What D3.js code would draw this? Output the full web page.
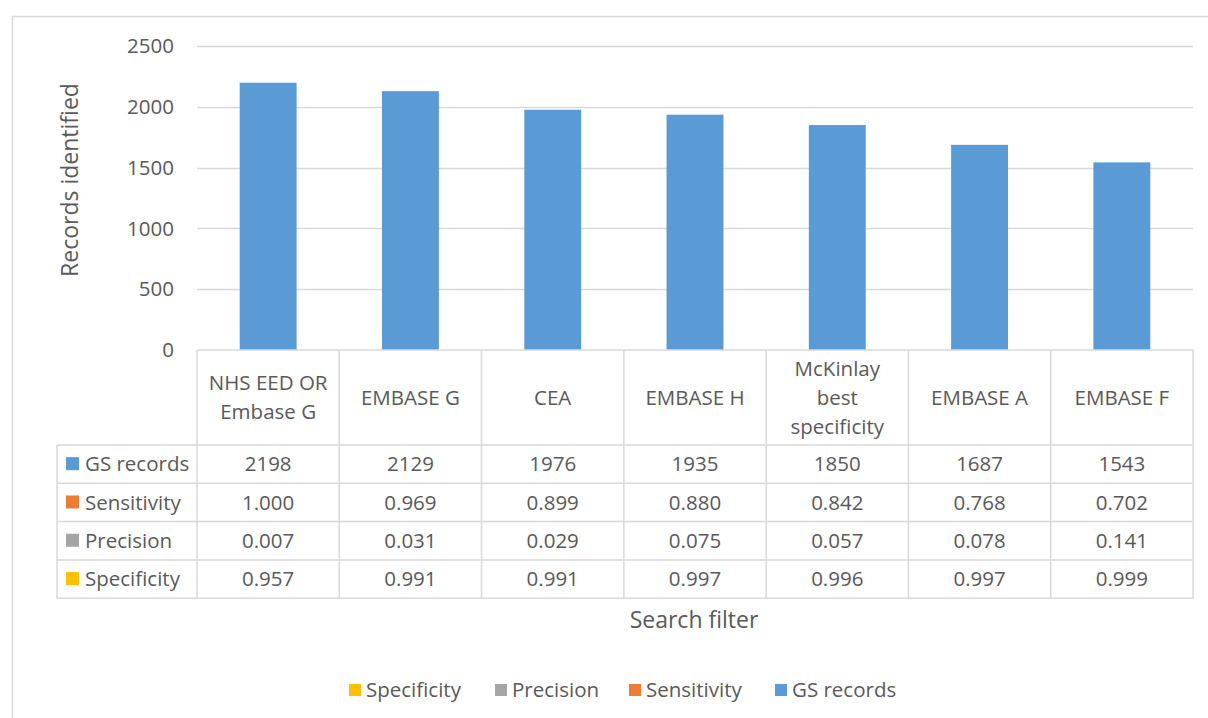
<!DOCTYPE html>
<html>
<head>
<meta charset="utf-8">
<script src="https://cdn.jsdelivr.net/npm/d3@7"></script>
<style>
  html, body { margin: 0; padding: 0; background: #fff; }
  svg { display: block; font-family: "Open Sans", "Noto Sans", sans-serif; }
</style>
</head>
<body>
<svg id="chart" width="1208" height="718"></svg>
<script>
const categories = [
  ['NHS EED OR', 'Embase G'],
  ['EMBASE G'],
  ['CEA'],
  ['EMBASE H'],
  ['McKinlay', 'best', 'specificity'],
  ['EMBASE A'],
  ['EMBASE F'],
];
const gsRecords   = [2198, 2129, 1976, 1935, 1850, 1687, 1543];
const sensitivity = [1.000, 0.969, 0.899, 0.880, 0.842, 0.768, 0.702];
const precision   = [0.007, 0.031, 0.029, 0.075, 0.057, 0.078, 0.141];
const specificity = [0.957, 0.991, 0.991, 0.997, 0.996, 0.997, 0.999];
const yTicks = [0, 500, 1000, 1500, 2000, 2500];

const COLORS = {
  gs:   '#5B9BD5',
  sens: '#ED7D31',
  prec: '#A5A5A5',
  spec: '#FFC000',
};
const TEXT = '#595959';
const GRID = '#D9D9D9';
const FS = '20.5px';      // table, ticks, legend
const FS_TITLE = '23px';  // axis titles

const rows = [
  { name: 'GS records',  values: gsRecords,   color: COLORS.gs,   fmt: d3.format('d') },
  { name: 'Sensitivity', values: sensitivity, color: COLORS.sens, fmt: d3.format('.3f') },
  { name: 'Precision',   values: precision,   color: COLORS.prec, fmt: d3.format('.3f') },
  { name: 'Specificity', values: specificity, color: COLORS.spec, fmt: d3.format('.3f') },
];
const legendOrder = ['Specificity', 'Precision', 'Sensitivity', 'GS records'];

const svg = d3.select('#chart');

// outer chart border
svg.append('rect')
  .attr('x', 12.5).attr('y', 16.5)
  .attr('width', 1210).attr('height', 720)
  .attr('fill', '#fff').attr('stroke', GRID).attr('stroke-width', 1.5);

const X0 = 197, X1 = 1193;
const x = d3.scaleBand()
  .domain(d3.range(categories.length))
  .range([X0, X1])
  .paddingInner(0.6)
  .paddingOuter(0.3);
const y = d3.scaleLinear().domain([0, 2500]).range([350, 46]);

// gridlines
svg.append('g').selectAll('line')
  .data(yTicks.filter(t => t > 0))
  .join('line')
  .attr('x1', X0).attr('x2', X1)
  .attr('y1', d => Math.round(y(d)) + 0.5).attr('y2', d => Math.round(y(d)) + 0.5)
  .attr('stroke', GRID).attr('stroke-width', 1.5);

// y axis labels
svg.append('g').selectAll('text')
  .data(yTicks)
  .join('text')
  .attr('x', 174).attr('y', d => y(d))
  .attr('dy', '0.35em')
  .attr('text-anchor', 'end')
  .attr('fill', TEXT)
  .style('font-size', FS)
  .text(d => d);

svg.append('text')
  .attr('transform', `translate(78,${180}) rotate(-90)`)
  .attr('text-anchor', 'middle')
  .attr('fill', TEXT)
  .style('font-size', FS_TITLE)
  .text('Records identified');

// bars
svg.append('g').selectAll('rect')
  .data(gsRecords)
  .join('rect')
  .attr('x', (d, i) => x(i))
  .attr('width', x.bandwidth())
  .attr('y', d => y(d))
  .attr('height', d => y(0) - y(d))
  .attr('fill', COLORS.gs);

// data table
const step = x.step();
const headTop = 350, headBot = 445, rowH = 38.3;
const tableLeft = 57;
const tableBot = headBot + rowH * rows.length;
const grid = svg.append('g')
  .attr('stroke', GRID).attr('stroke-width', 1.5).attr('fill', 'none');

grid.append('line').attr('x1', X0).attr('x2', X1).attr('y1', headTop).attr('y2', headTop);
d3.range(rows.length + 1).forEach(r => {
  const yy = headBot + r * rowH;
  grid.append('line').attr('x1', tableLeft).attr('x2', X1).attr('y1', yy).attr('y2', yy);
});
grid.append('line').attr('x1', tableLeft).attr('x2', tableLeft).attr('y1', headBot).attr('y2', tableBot);
d3.range(categories.length + 1).forEach(c => {
  const xx = X0 + c * step;
  grid.append('line').attr('x1', xx).attr('x2', xx).attr('y1', headTop).attr('y2', tableBot);
});

// category headers
const lineH = 29;
const headMid = (headTop + headBot) / 2;
categories.forEach((lines, i) => {
  const cx = X0 + (i + 0.5) * step;
  const t = svg.append('text')
    .attr('text-anchor', 'middle')
    .attr('fill', TEXT)
    .style('font-size', FS);
  lines.forEach((ln, k) => {
    t.append('tspan')
      .attr('x', cx)
      .attr('y', headMid + (k - (lines.length - 1) / 2) * lineH)
      .attr('dy', '0.35em')
      .text(ln);
  });
});

// rows
rows.forEach((row, r) => {
  const cy = headBot + (r + 0.5) * rowH;
  svg.append('rect')
    .attr('x', 66).attr('y', cy - 7)
    .attr('width', 13).attr('height', 13)
    .attr('fill', row.color);
  svg.append('text')
    .attr('x', 85).attr('y', cy).attr('dy', '0.35em')
    .attr('fill', TEXT).style('font-size', FS)
    .text(row.name);
  row.values.forEach((v, i) => {
    svg.append('text')
      .attr('x', X0 + (i + 0.5) * step).attr('y', cy).attr('dy', '0.35em')
      .attr('text-anchor', 'middle')
      .attr('fill', TEXT).style('font-size', FS)
      .text(row.fmt(v));
  });
});

// x axis title
svg.append('text')
  .attr('x', 694).attr('y', 620).attr('dy', '0.35em')
  .attr('text-anchor', 'middle')
  .attr('fill', TEXT).style('font-size', FS_TITLE)
  .text('Search filter');

// legend
const legendTextX = [366, 512, 646, 792];
const legend = svg.append('g');
legendOrder.forEach((name, i) => {
  const row = rows.find(r => r.name === name);
  legend.append('rect')
    .attr('x', legendTextX[i] - 17).attr('y', 684)
    .attr('width', 12).attr('height', 12)
    .attr('fill', row.color);
  legend.append('text')
    .attr('x', legendTextX[i]).attr('y', 690).attr('dy', '0.35em')
    .attr('fill', TEXT).style('font-size', FS)
    .text(name);
});
</script>
</body>
</html>
